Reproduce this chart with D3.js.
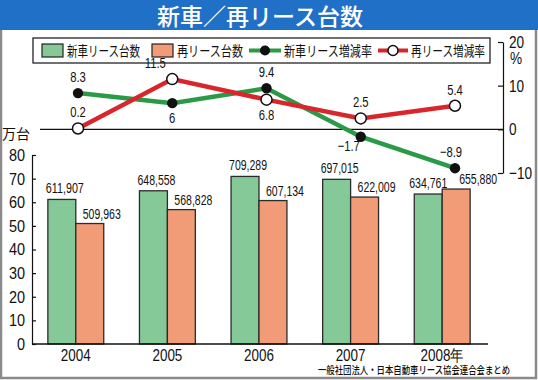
<!DOCTYPE html>
<html>
<head>
<meta charset="utf-8">
<script src="https://cdn.jsdelivr.net/npm/d3@7"></script>
<style>
  body { margin: 0; background: #fff; }
  svg { display: block; }
  .num { font-family: "Liberation Sans", Arial, sans-serif; fill: #111; }
  .jp { font-family: "Noto Sans CJK JP", sans-serif; fill: #111; }
</style>
</head>
<body>
<div id="target"></div>
<script>
var width = 538,
    height = 380;

// data
var years = ['2004', '2005', '2006', '2007', '2008'];
var yearLabels = ['2004', '2005', '2006', '2007', '2008年'];
var newLease = [611907, 648558, 709289, 697015, 634761];   // 新車リース台数
var reLease = [509963, 568828, 607134, 622009, 655880];    // 再リース台数
var newRate = [8.3, 6, 9.4, -1.7, -8.9];                   // 新車リース増減率
var reRate = [0.2, 11.5, 6.8, 2.5, 5.4];                   // 再リース増減率
var leftTicks = [0, 10, 20, 30, 40, 50, 60, 70, 80];
var rightTicks = [-10, 0, 10, 20];

// label placement for rate labels (a = above, b = below, al/bl = shifted left)
var newRatePos = ['a', 'b', 'a', 'bl', 'a'];
var reRatePos = ['a', 'al', 'b', 'a', 'a'];

var green = '#86c999', orange = '#f29b77';
var lineGreen = '#2a9a47', lineRed = '#d8262c';

var svg = d3.select('#target').append('svg')
    .attr('width', width)
    .attr('height', height);

// squeeze text horizontally (the original uses a condensed face)
function condense(sel, f) {
    sel.each(function () {
        var w = this.getComputedTextLength();
        d3.select(this).attr('textLength', w * f).attr('lengthAdjust', 'spacingAndGlyphs');
    });
}

// frame + title bar
svg.append('rect')
    .attr('x', 1).attr('y', 1)
    .attr('width', width - 3).attr('height', height - 3)
    .attr('fill', '#fff')
    .attr('stroke', '#8a8a8a')
    .attr('stroke-width', 2.5);
svg.append('rect')
    .attr('x', 0).attr('y', 0)
    .attr('width', width).attr('height', 30)
    .attr('fill', '#1f70c6');
svg.append('text')
    .attr('class', 'jp')
    .attr('x', 260).attr('y', 25)
    .attr('text-anchor', 'middle')
    .style('fill', '#fff')
    .style('font-size', '23px')
    .style('font-weight', 500)
    .text('新車／再リース台数');

// scales
var x = d3.scaleBand().domain(years).range([30, 488])
    .paddingInner(0.39).paddingOuter(0.195);
var x1 = d3.scaleBand().domain(['new', 're']).range([0, x.bandwidth()]);
var xl = d3.scalePoint().domain(years).range([78, 455]);
var y = d3.scaleLinear().domain([0, 80]).range([344, 155]);
var yr = d3.scaleLinear().domain([-10, 20]).range([173, 42]);

// bars
var groups = svg.append('g').selectAll('g')
    .data(years)
    .enter().append('g')
    .attr('transform', function (d) { return 'translate(' + x(d) + ',0)'; });

groups.append('rect')
    .attr('x', x1('new'))
    .attr('y', function (d, i) { return y(newLease[i] / 10000); })
    .attr('width', x1.bandwidth())
    .attr('height', function (d, i) { return y(0) - y(newLease[i] / 10000); })
    .attr('fill', green)
    .attr('stroke', '#2b2b2b')
    .attr('stroke-width', 1.3);
groups.append('rect')
    .attr('x', x1('re'))
    .attr('y', function (d, i) { return y(reLease[i] / 10000); })
    .attr('width', x1.bandwidth())
    .attr('height', function (d, i) { return y(0) - y(reLease[i] / 10000); })
    .attr('fill', orange)
    .attr('stroke', '#2b2b2b')
    .attr('stroke-width', 1.3);

var fmt = d3.format(',');
groups.append('text')
    .attr('class', 'num')
    .attr('x', function (d, i) { return x1('new') + x1.bandwidth() / 2 + (i == 4 ? 0 : 3); })
    .attr('y', function (d, i) { return y(newLease[i] / 10000) - 6; })
    .attr('text-anchor', 'middle')
    .attr('textLength', 38)
    .attr('lengthAdjust', 'spacingAndGlyphs')
    .style('font-size', '15px')
    .text(function (d, i) { return fmt(newLease[i]); });
groups.append('text')
    .attr('class', 'num')
    .attr('x', function (d, i) { return x1('re') + x1.bandwidth() / 2 + (i == 4 ? 22 : 12); })
    .attr('y', function (d, i) { return y(reLease[i] / 10000) - 5; })
    .attr('text-anchor', 'middle')
    .attr('textLength', 38)
    .attr('lengthAdjust', 'spacingAndGlyphs')
    .style('font-size', '15px')
    .text(function (d, i) { return fmt(reLease[i]); });

// left axis
var leftAxis = d3.axisLeft(y).tickValues(leftTicks).tickSizeInner(-4).tickSizeOuter(0).tickPadding(7);
var gl = svg.append('g').attr('transform', 'translate(32,0)').call(leftAxis);
gl.select('.domain').attr('stroke', '#111').attr('stroke-width', 1.2);
gl.selectAll('.tick line').attr('stroke', '#111').attr('stroke-width', 1.2);
gl.selectAll('.tick text').attr('class', 'num').style('font-size', '17px').attr('fill', '#111')
    .call(condense, 0.85);

// bottom baseline
svg.append('line')
    .attr('x1', 32).attr('x2', 488)
    .attr('y1', y(0)).attr('y2', y(0))
    .attr('stroke', '#111').attr('stroke-width', 1.4);

// year labels
svg.append('g').selectAll('text')
    .data(years)
    .enter().append('text')
    .attr('class', 'num')
    .attr('x', function (d) { return x(d) + x.bandwidth() / 2; })
    .attr('y', 361)
    .attr('text-anchor', 'middle')
    .style('font-size', '16px')
    .text(function (d, i) { return yearLabels[i]; })
    .call(condense, 0.84);

svg.append('text')
    .attr('class', 'jp')
    .attr('x', 30).attr('y', 139)
    .attr('text-anchor', 'end')
    .style('font-size', '14px')
    .text('万台');

// source
svg.append('text')
    .attr('class', 'jp')
    .attr('x', 318).attr('y', 374)
    .attr('textLength', 192)
    .attr('lengthAdjust', 'spacingAndGlyphs')
    .style('font-size', '10.5px')
    .style('font-weight', 500)
    .text('一般社団法人・日本自動車リース協会連合会まとめ');

// right axis
var rightAxis = d3.axisRight(yr).tickValues(rightTicks).tickSizeInner(-5).tickSizeOuter(0).tickPadding(6)
    .tickFormat(function (d) { return d < 0 ? '−' + Math.abs(d) : d; });
var gr = svg.append('g').attr('transform', 'translate(503,0)').call(rightAxis);
gr.select('.domain').attr('stroke', '#111').attr('stroke-width', 1.2);
gr.selectAll('.tick line').attr('stroke', '#111').attr('stroke-width', 1.2);
gr.selectAll('.tick text').attr('class', 'num').style('font-size', '17px').attr('fill', '#111')
    .call(condense, 0.8);
svg.append('text')
    .attr('class', 'num')
    .attr('x', 516).attr('y', 64)
    .attr('text-anchor', 'middle')
    .style('font-size', '16px')
    .text('%')
    .call(condense, 0.85);

// zero line
svg.append('line')
    .attr('x1', 40).attr('x2', 503)
    .attr('y1', yr(0)).attr('y2', yr(0))
    .attr('stroke', '#111').attr('stroke-width', 1.3);

// legend
var lg = svg.append('g');
lg.append('rect')
    .attr('x', 33).attr('y', 38).attr('width', 457).attr('height', 25)
    .attr('fill', '#fff').attr('stroke', '#111').attr('stroke-width', 1.2);
lg.append('rect').attr('x', 42).attr('y', 44).attr('width', 21).attr('height', 13)
    .attr('fill', green).attr('stroke', '#222').attr('stroke-width', 1.2);
lg.append('rect').attr('x', 152).attr('y', 44).attr('width', 21).attr('height', 13)
    .attr('fill', orange).attr('stroke', '#222').attr('stroke-width', 1.2);
lg.append('line').attr('x1', 249).attr('x2', 281).attr('y1', 50.5).attr('y2', 50.5)
    .attr('stroke', lineGreen).attr('stroke-width', 4);
lg.append('circle').attr('cx', 265).attr('cy', 50.5).attr('r', 5).attr('fill', '#111');
lg.append('line').attr('x1', 378).attr('x2', 408).attr('y1', 50.5).attr('y2', 50.5)
    .attr('stroke', lineRed).attr('stroke-width', 4);
lg.append('circle').attr('cx', 393).attr('cy', 50.5).attr('r', 5)
    .attr('fill', '#fff').attr('stroke', '#111').attr('stroke-width', 1.5);
var legendText = [
    {t: '新車リース台数', x: 67, w: 73},
    {t: '再リース台数', x: 177, w: 66},
    {t: '新車リース増減率', x: 284, w: 88},
    {t: '再リース増減率', x: 411, w: 74}
];
lg.selectAll('text.lt')
    .data(legendText)
    .enter().append('text')
    .attr('class', 'jp lt')
    .attr('x', function (d) { return d.x; })
    .attr('y', 55.5)
    .attr('textLength', function (d) { return d.w; })
    .attr('lengthAdjust', 'spacingAndGlyphs')
    .style('font-size', '14px')
    .text(function (d) { return d.t; });

// rate lines
var line = d3.line()
    .x(function (d, i) { return xl(years[i]); })
    .y(function (d) { return yr(d); });

svg.append('path')
    .attr('d', line(newRate))
    .attr('fill', 'none')
    .attr('stroke', lineGreen)
    .attr('stroke-width', 4.5);
svg.append('path')
    .attr('d', line(reRate))
    .attr('fill', 'none')
    .attr('stroke', lineRed)
    .attr('stroke-width', 4.5);

svg.append('g').selectAll('circle')
    .data(newRate)
    .enter().append('circle')
    .attr('cx', function (d, i) { return xl(years[i]); })
    .attr('cy', function (d) { return yr(d); })
    .attr('r', 5.2)
    .attr('fill', '#111');
svg.append('g').selectAll('circle')
    .data(reRate)
    .enter().append('circle')
    .attr('cx', function (d, i) { return xl(years[i]); })
    .attr('cy', function (d) { return yr(d); })
    .attr('r', 5.5)
    .attr('fill', '#fff')
    .attr('stroke', '#111')
    .attr('stroke-width', 1.5);

function rateLabel(values, pos) {
    svg.append('g').selectAll('text')
        .data(values)
        .enter().append('text')
        .attr('class', 'num')
        .attr('x', function (d, i) {
            var p = pos[i];
            return xl(years[i]) + (p == 'al' ? -17 : p == 'bl' ? -12 : (d == -8.9 ? -4 : 0));
        })
        .attr('y', function (d, i) {
            var p = pos[i];
            return yr(d) + (p == 'a' || p == 'al' ? -11 : p == 'bl' ? 14 : 20);
        })
        .attr('text-anchor', 'middle')
        .style('font-size', '15px')
        .text(function (d) { return d < 0 ? '−' + Math.abs(d) : d; })
        .call(condense, 0.75);
}
rateLabel(newRate, newRatePos);
rateLabel(reRate, reRatePos);
</script>
</body>
</html>
